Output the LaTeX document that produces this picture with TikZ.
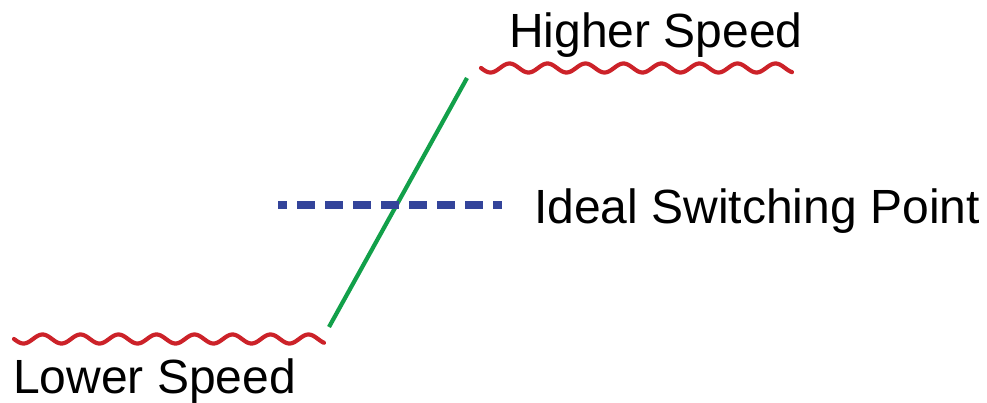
\documentclass[tikz,border=0pt]{standalone}
\usepackage{fontspec}
\setmainfont{Liberation Sans}
\definecolor{cc2229}{HTML}{CC2229}
\definecolor{12a04a}{HTML}{12A04A}
\definecolor{33449a}{HTML}{33449A}
\begin{document}
\begin{tikzpicture}[x=1pt,y=-1pt,font=\fontsize{48}{56}\selectfont]
    \useasboundingbox(0,0)rectangle(987,402);
    \tikzset{wave/.style={cc2229,line width=4.2pt,line cap=round}}
    \newcommand{\WL}{38}
    \newcommand{\WA}{4.5}
    \coordinate(LA)at(14,339);
    \coordinate(HA)at(481,68);
    \coordinate(SA)at(329,327);
    \coordinate(SB)at(467,78);
    \coordinate(IA)at(278,205);
    \coordinate(IB)at(502,205);
    \draw[wave,shift={(LA)}]plot[domain=0:310,samples=200,smooth](\x,{\WA*sin(\x/\WL*360)});
    \draw[wave,shift={(HA)}]plot[domain=0:311,samples=200,smooth](\x,{\WA*sin(\x/\WL*360)});
    \draw[12a04a,line width=4.2pt](SA)--(SB);
    \draw[33449a,line width=8pt,dash pattern=on 18pt off 10pt,dash phase=9pt](IA)--(IB);
    \node[anchor=base west,inner sep=0](high)at(509,47){Higher Speed};
    \node[anchor=base west,inner sep=0](ideal)at(534,223){Ideal Switching Point};
    \node[anchor=base west,inner sep=0](low)at(13,393){Lower Speed};
\end{tikzpicture}
\end{document}
